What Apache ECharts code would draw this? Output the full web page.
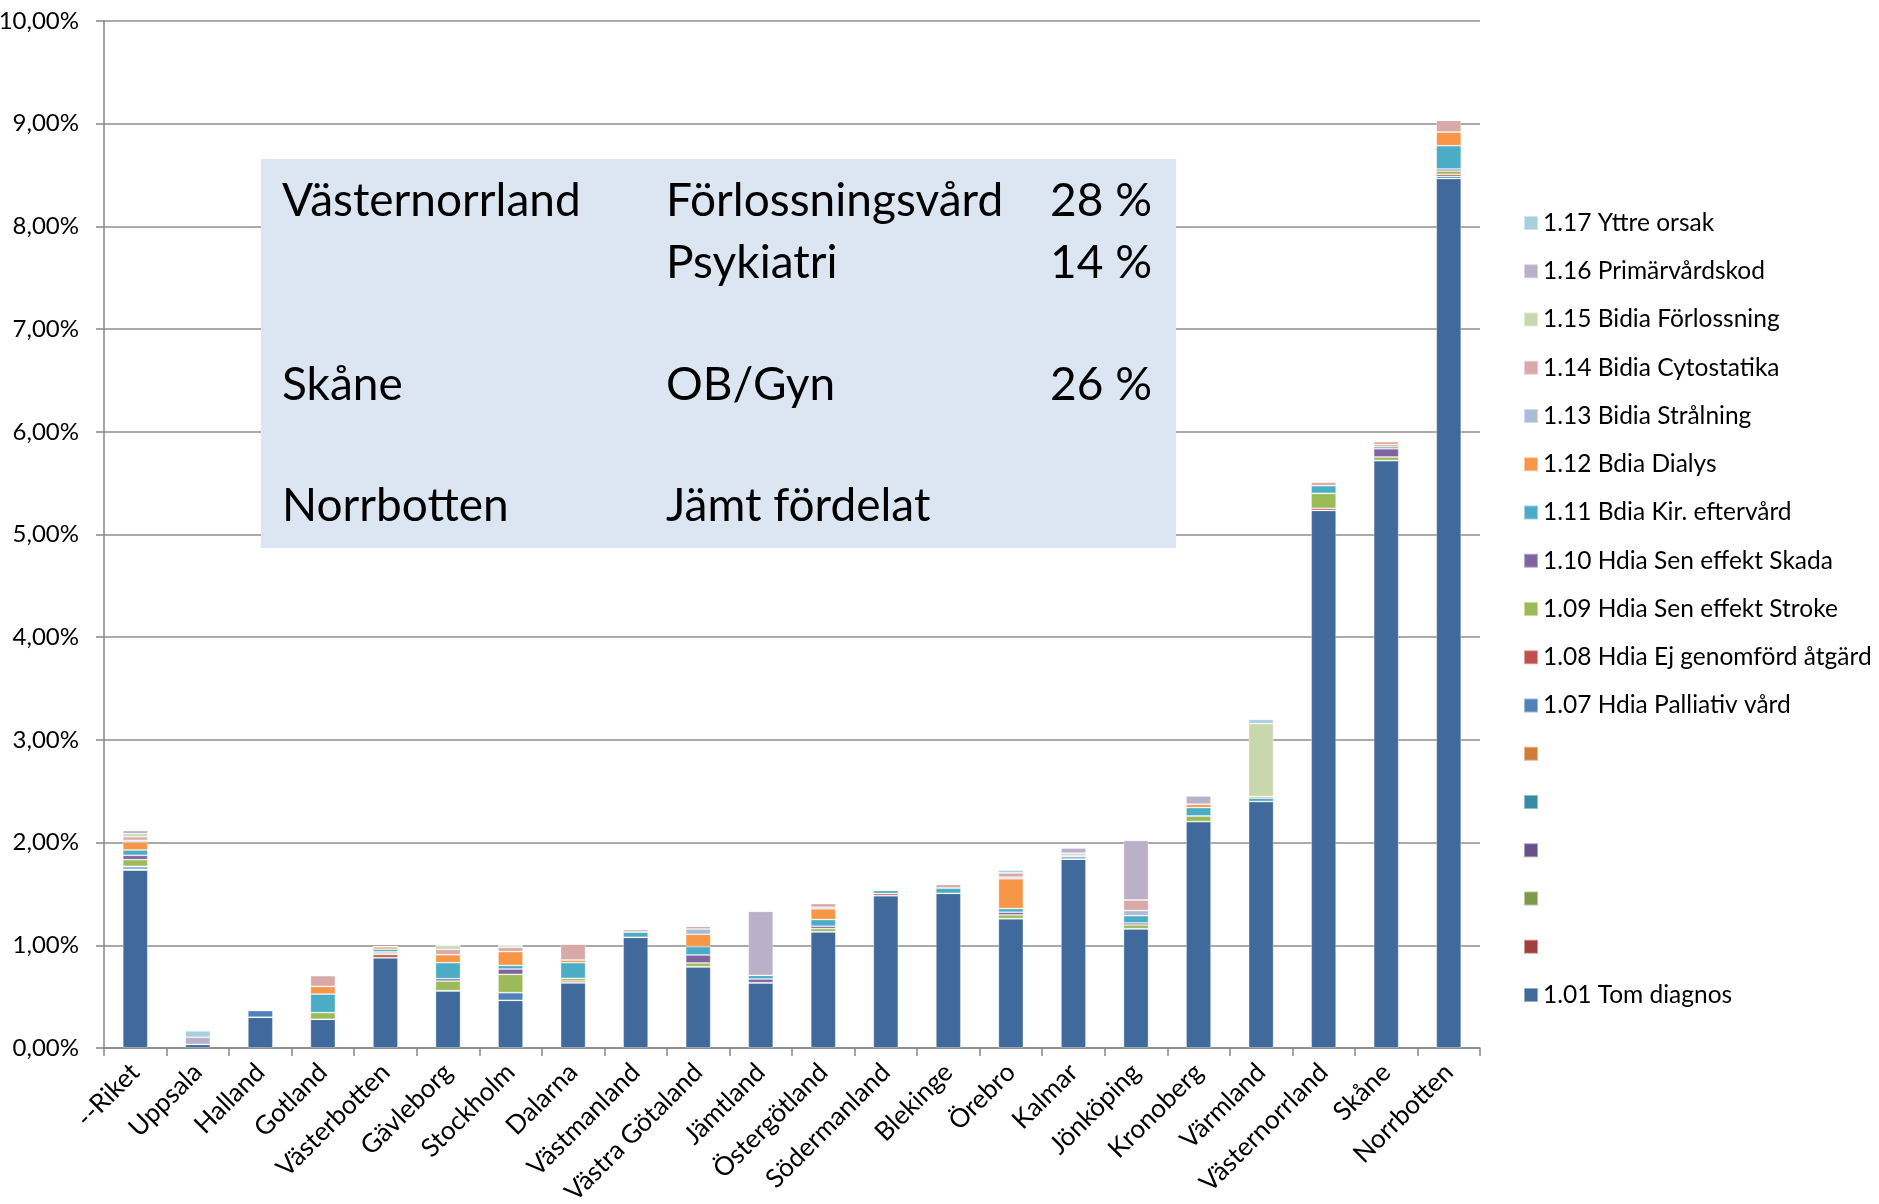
<!DOCTYPE html>
<html>
<head>
    <meta charset="UTF-8">
    <title>Andel per län</title>
    <style>
        html, body { margin: 0; padding: 0; background: #fff; }
        #main { width: 1879px; height: 1204px; }
    </style>
</head>
<body>
<div id="main"></div>
<script src="https://cdn.jsdelivr.net/npm/echarts@6/dist/echarts.min.js"></script>
<script>
    // kategorier (län)
    var categories = ['--Riket', 'Uppsala', 'Halland', 'Gotland', 'Västerbotten', 'Gävleborg', 'Stockholm',
        'Dalarna', 'Västmanland', 'Västra Götaland', 'Jämtland', 'Östergötland', 'Södermanland', 'Blekinge',
        'Örebro', 'Kalmar', 'Jönköping', 'Kronoberg', 'Värmland', 'Västernorrland', 'Skåne', 'Norrbotten'];

    // värden i procent, en lista per serie (nerifrån och upp)
    var s101 = [1.735, 0.035, 0.30, 0.28, 0.88, 0.558, 0.464, 0.636, 1.078, 0.792, 0.636, 1.133, 1.484, 1.506, 1.26, 1.84, 1.162, 2.205, 2.40, 5.235, 5.72, 8.467];
    var s102 = [0, 0, 0, 0, 0, 0, 0, 0, 0, 0, 0, 0, 0, 0, 0, 0, 0, 0, 0, 0, 0, 0];
    var s103 = [0, 0, 0, 0, 0, 0, 0, 0, 0, 0, 0, 0, 0, 0, 0, 0, 0, 0, 0, 0, 0, 0];
    var s104 = [0, 0, 0, 0, 0, 0, 0, 0, 0, 0, 0, 0, 0, 0, 0, 0, 0, 0, 0, 0, 0, 0];
    var s105 = [0, 0, 0, 0, 0, 0, 0, 0, 0, 0, 0, 0, 0, 0, 0, 0, 0, 0, 0, 0, 0, 0];
    var s106 = [0.006, 0, 0, 0, 0, 0, 0, 0, 0, 0, 0, 0, 0, 0, 0, 0, 0, 0, 0, 0, 0, 0];
    var s107 = [0.023, 0, 0.065, 0, 0, 0, 0.075, 0, 0, 0, 0, 0, 0, 0, 0, 0, 0, 0, 0, 0, 0, 0.02];
    var s108 = [0.005, 0, 0, 0, 0.03, 0, 0, 0.016, 0, 0, 0, 0, 0.02, 0, 0, 0, 0, 0, 0, 0.02, 0, 0.02];
    var s109 = [0.065, 0, 0, 0.065, 0.015, 0.094, 0.178, 0.026, 0, 0.036, 0, 0.03, 0, 0, 0.036, 0, 0.036, 0.055, 0, 0.146, 0.035, 0.032];
    var s110 = [0.042, 0, 0, 0, 0.012, 0.023, 0.052, 0, 0, 0.078, 0.036, 0.023, 0, 0, 0.026, 0, 0.02, 0, 0, 0, 0.08, 0.02];
    var s111 = [0.052, 0, 0, 0.18, 0.025, 0.156, 0.035, 0.153, 0.052, 0.081, 0.036, 0.065, 0.03, 0.053, 0.036, 0.023, 0.071, 0.081, 0.033, 0.075, 0.02, 0.227];
    var s112 = [0.078, 0, 0, 0.075, 0.025, 0.078, 0.135, 0.026, 0, 0.12, 0, 0.104, 0, 0, 0.29, 0, 0, 0.033, 0.016, 0, 0.02, 0.133];
    var s113 = [0.016, 0, 0, 0, 0, 0, 0, 0, 0, 0.052, 0, 0.016, 0, 0, 0.016, 0.015, 0.049, 0, 0, 0, 0, 0];
    var s114 = [0.035, 0, 0, 0.105, 0, 0.052, 0.041, 0.156, 0.023, 0.026, 0, 0.036, 0, 0.033, 0.042, 0.02, 0.104, 0, 0, 0.036, 0.03, 0.114];
    var s115 = [0.03, 0, 0, 0, 0, 0.036, 0.016, 0, 0, 0, 0, 0, 0, 0, 0, 0, 0, 0, 0.71, 0, 0, 0];
    var s116 = [0.03, 0.07, 0, 0, 0, 0, 0, 0, 0, 0, 0.623, 0, 0, 0, 0, 0.05, 0.58, 0.081, 0, 0, 0, 0];
    var s117 = [0.008, 0.062, 0, 0, 0, 0, 0, 0, 0, 0, 0, 0, 0, 0, 0.026, 0, 0, 0, 0.04, 0, 0, 0];

    var seriesNames = ['1.01 Tom diagnos', '1.02', '1.03', '1.04', '1.05', '1.06',
        '1.07 Hdia Palliativ vård', '1.08 Hdia Ej genomförd åtgärd', '1.09 Hdia Sen effekt Stroke',
        '1.10 Hdia Sen effekt Skada', '1.11 Bdia Kir. eftervård', '1.12 Bdia Dialys', '1.13 Bidia Strålning',
        '1.14 Bidia Cytostatika', '1.15 Bidia Förlossning', '1.16 Primärvårdskod', '1.17 Yttre orsak'];
    var seriesData = [s101, s102, s103, s104, s105, s106, s107, s108, s109, s110, s111, s112, s113, s114, s115, s116, s117];
    var seriesColors = ['#416a9c', '#a0403e', '#7e9a49', '#67508a', '#378ba3', '#d07d36',
        '#4f81bd', '#c0504d', '#9bbb59', '#8064a2', '#4bacc6', '#f79646', '#aabad7',
        '#d9a9a8', '#c8d7ac', '#bab0c9', '#a8cfdd'];
    // dessa serier saknar namn i förklaringen
    var unnamed = ['1.02', '1.03', '1.04', '1.05', '1.06'];

    var yTicks = [0, 1, 2, 3, 4, 5, 6, 7, 8, 9, 10];

    var font = 'Lato, "Open Sans", "Noto Sans", sans-serif';

    var series = [];
    for (var i = 0; i < seriesNames.length; i++) {
        series.push({
            name: seriesNames[i],
            type: 'bar',
            stack: 'total',
            barWidth: 25,
            data: seriesData[i],
            itemStyle: {
                color: seriesColors[i],
                borderColor: 'rgba(255,255,255,0.45)',
                borderWidth: 0.8
            }
        });
    }

    // textrutan
    var boxText = [
        {t: 'Västernorrland', x: 282, y: 201},
        {t: 'Förlossningsvård', x: 666, y: 201},
        {t: '28 %', x: 1050, y: 201},
        {t: 'Psykiatri', x: 666, y: 263},
        {t: '14 %', x: 1050, y: 263},
        {t: 'Skåne', x: 282, y: 385},
        {t: 'OB/Gyn', x: 666, y: 385},
        {t: '26 %', x: 1050, y: 385},
        {t: 'Norrbotten', x: 282, y: 506},
        {t: 'Jämt fördelat', x: 666, y: 506}
    ];
    var graphic = [
        {type: 'rect', x: 261, y: 159, z: 10, shape: {width: 915, height: 389}, style: {fill: '#dce6f2'}}
    ];
    boxText.forEach(function (b) {
        graphic.push({
            type: 'text', x: b.x, y: b.y, z: 11,
            style: {text: b.t, fontSize: 46, fontFamily: font, fill: '#000', verticalAlign: 'middle'}
        });
    });

    var myChart = echarts.init(document.getElementById('main'), null, {renderer: 'canvas'});

    var option = {
        animation: false,
        backgroundColor: '#ffffff',
        textStyle: {fontFamily: font},
        grid: {left: 104, right: 399, top: 21, bottom: 156, containLabel: false, outerBoundsMode: 'none'},
        legend: {
            orient: 'vertical',
            left: 1523,
            top: 210,
            itemWidth: 14,
            itemHeight: 14,
            itemGap: 22.25,
            padding: 0,
            icon: 'rect',
            data: seriesNames.slice().reverse(),
            formatter: function (name) {
                return unnamed.indexOf(name) >= 0 ? ' ' : name;
            },
            textStyle: {fontFamily: font, fontSize: 24.5, color: '#000', lineHeight: 26}
        },
        xAxis: {
            type: 'category',
            data: categories,
            boundaryGap: true,
            axisLine: {lineStyle: {color: '#868686', width: 1.5}},
            axisTick: {show: true, alignWithLabel: false, length: 8, lineStyle: {color: '#868686', width: 1.5}},
            axisLabel: {
                interval: 0,
                rotate: 45,
                margin: 20,
                fontSize: 26,
                fontFamily: font,
                color: '#000'
            }
        },
        yAxis: {
            type: 'value',
            min: yTicks[0],
            max: yTicks[yTicks.length - 1],
            interval: 1,
            axisLine: {show: true, lineStyle: {color: '#868686', width: 1.5}},
            axisTick: {show: true, length: 8, lineStyle: {color: '#868686', width: 1.5}},
            splitLine: {show: true, lineStyle: {color: '#8c8c8c', width: 1.5}},
            axisLabel: {
                margin: 25,
                fontSize: 24,
                fontFamily: font,
                color: '#000',
                formatter: function (v) {
                    return v.toFixed(2).replace('.', ',') + '%';
                }
            }
        },
        graphic: graphic,
        series: series
    };

    myChart.setOption(option);
</script>
</body>
</html>
